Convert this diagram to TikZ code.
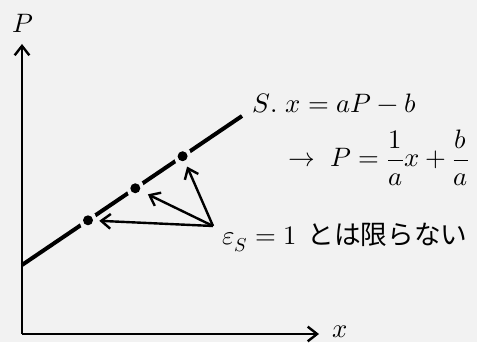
\documentclass[tikz,border=0pt]{standalone}
\usepackage{fontspec}
\usepackage{unicode-math}
\setmathfont{Latin Modern Math}
\newfontfamily\jpfont{Noto Sans CJK JP}
\usetikzlibrary{arrows.meta,positioning,calc}
\definecolor{bg}{HTML}{F2F2F2}
\definecolor{ink}{HTML}{000000}

\begin{document}
\begin{tikzpicture}[x=0.75pt,y=0.75pt,
                    ax/.style={draw=ink,line width=1.8pt,-{Straight Barb[length=7pt,width=11pt]}},
                    sline/.style={draw=ink,line width=3pt},
                    dot/.style={circle,fill=ink,inner sep=0pt,minimum size=7.5pt,preaction={draw=bg,line width=6pt}},
                    arr/.style={draw=ink,line width=1.8pt,-{Straight Barb[length=7pt,width=11pt]},shorten >=4.5pt},
                    lbl/.style={inner sep=0pt,anchor=base west,font=\fontsize{20}{24}\selectfont}]
  \fill[bg] (0,0) rectangle (477,342);
  \useasboundingbox (0,0) rectangle (477,342);
  % axes
  \coordinate (o) at (22,8);
  \coordinate (ytop) at (22,298);
  \coordinate (xend) at (319,8);
  \draw[ax] (o) -- (ytop);
  \draw[ax] (o) -- (xend);
  \node[lbl] (plab) at (12,309) {$P$};
  \node[lbl] (xlab) at (332,5) {$x$};
  % supply line
  \coordinate (s0) at (22,77);
  \coordinate (s1) at (242,226);
  \draw[sline] (s0) -- (s1);
  \path (s0) -- (s1) node[dot,pos=0.3] (d1) {}
                     node[dot,pos=0.515] (d2) {}
                     node[dot,pos=0.73] (d3) {};
  % elasticity arrows
  \coordinate (src) at (213,116);
  \draw[arr] (src) -- (d1);
  \draw[arr,shorten >=6.5pt] (src) -- (d2);
  \draw[arr] (src) -- (d3);
  \node[lbl] (eq1) at (252,229) {$S.\ x = aP - b$};
  \node[lbl] (eq2) at (288,175) {$\rightarrow\ P = \dfrac{1}{a}x + \dfrac{b}{a}$};
  \node[lbl] (eps) at (222,97) {$\varepsilon_S = 1$};
  \node[lbl,font=\fontsize{20}{24}\jpfont] (jp) at ($(eps.base east)+(10,0)$) {とは限らない};
\end{tikzpicture}
\end{document}
